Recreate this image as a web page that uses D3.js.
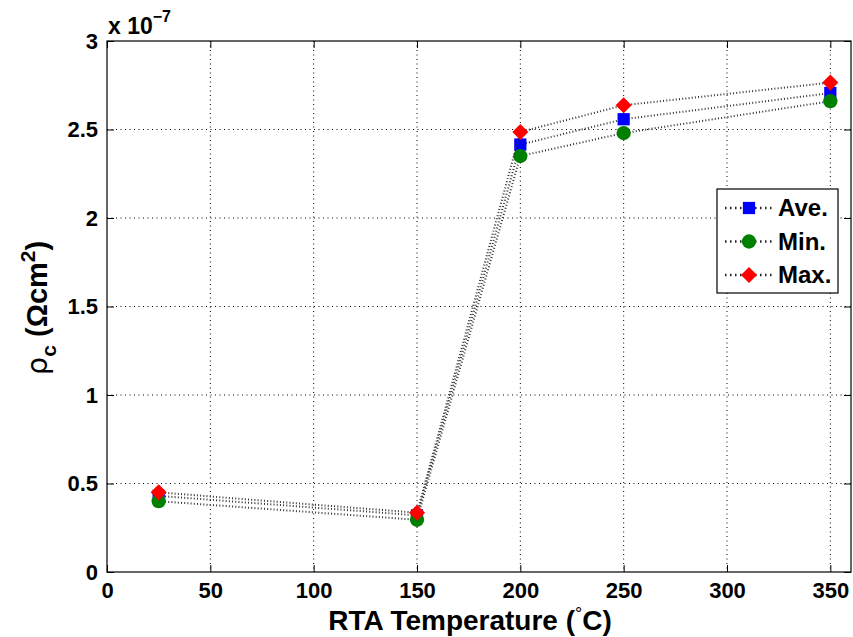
<!DOCTYPE html>
<html>
<head>
<meta charset="utf-8">
<script src="https://cdn.jsdelivr.net/npm/d3@7"></script>
<style>
  body { margin: 0; background: #fff; }
  svg { font-family: "Liberation Sans", Arial, sans-serif; font-weight: bold; }
</style>
</head>
<body>
<svg id="svg" width="853" height="637"></svg>
<script>
// RTA temperatures (°C)
let temps = [25, 150, 200, 250, 350];
// contact resistivity, in units of 1e-7 Ohm cm^2
let aveValues = [0.43, 0.32, 2.415, 2.558, 2.706];
let minValues = [0.40, 0.295, 2.35, 2.48, 2.66];
let maxValues = [0.45, 0.335, 2.486, 2.637, 2.765];
let xTicks = [0, 50, 100, 150, 200, 250, 300, 350];
let yTicks = [0, 0.5, 1, 1.5, 2, 2.5, 3];

let series = [
  { name: "Ave.", values: aveValues, color: "#0000ff", symbol: "square" },
  { name: "Min.", values: minValues, color: "#008000", symbol: "circle" },
  { name: "Max.", values: maxValues, color: "#ff0000", symbol: "diamond" }
];

let svg = d3.select("svg");
let margin = { top: 41, right: 2, bottom: 65, left: 107 };
let width = 851 - margin.left;
let height = 572 - margin.top;

let x = d3.scaleLinear().domain([0, 360]).range([0, width]);
let y = d3.scaleLinear().domain([0, 3]).range([height, 0]);

let g = svg.append("g")
  .attr("transform", "translate(" + margin.left + "," + margin.top + ")");

// dotted grid
g.append("g").selectAll("line")
  .data(xTicks.filter(t => t > 0))
  .enter().append("line")
    .attr("x1", d => x(d)).attr("x2", d => x(d))
    .attr("y1", 0).attr("y2", height)
    .attr("stroke", "#000").attr("stroke-width", 1)
    .attr("stroke-dasharray", "1,3.5");
g.append("g").selectAll("line")
  .data(yTicks.filter(t => t > 0 && t < 3))
  .enter().append("line")
    .attr("y1", d => y(d)).attr("y2", d => y(d))
    .attr("x1", 0).attr("x2", width)
    .attr("stroke", "#000").attr("stroke-width", 1)
    .attr("stroke-dasharray", "1,3.5");

// axes with inward ticks, MATLAB style box
g.append("g")
  .attr("transform", "translate(0," + height + ")")
  .call(d3.axisBottom(x).tickValues(xTicks).tickSizeInner(-7).tickSizeOuter(0).tickPadding(10));
g.append("g")
  .call(d3.axisLeft(y).tickValues(yTicks).tickSizeInner(-7).tickSizeOuter(0).tickPadding(9)
    .tickFormat(d3.format("")));
g.append("g")
  .call(d3.axisTop(x).tickValues(xTicks).tickSizeInner(-7).tickSizeOuter(0).tickFormat(""));
g.append("g")
  .attr("transform", "translate(" + width + ",0)")
  .call(d3.axisRight(y).tickValues(yTicks).tickSizeInner(-7).tickSizeOuter(0).tickFormat(""));

g.selectAll(".domain").remove();
g.selectAll(".tick line").attr("stroke", "#000").attr("stroke-width", 1);
g.selectAll(".tick text").attr("font-size", 22).attr("font-weight", "bold")
  .attr("font-family", "Liberation Sans, Arial, sans-serif").attr("fill", "#000");

g.append("rect")
  .attr("width", width).attr("height", height)
  .attr("fill", "none").attr("stroke", "#000").attr("stroke-width", 1.2);

// series lines and markers
let line = d3.line()
  .x((d, i) => x(temps[i]))
  .y(d => y(d));

let symbolMap = {
  square: d3.symbol().type(d3.symbolSquare).size(150),
  circle: d3.symbol().type(d3.symbolCircle).size(160),
  diamond: d3.symbol().type(d3.symbolDiamond2).size(165)
};

series.forEach(s => {
  g.append("path")
    .datum(s.values)
    .attr("fill", "none")
    .attr("stroke", "#333")
    .attr("stroke-width", 2)
    .attr("stroke-dasharray", "1,2.2")
    .attr("d", line);
  g.selectAll(null)
    .data(s.values)
    .enter().append("path")
      .attr("transform", (d, i) => "translate(" + x(temps[i]) + "," + y(d) + ")")
      .attr("d", symbolMap[s.symbol])
      .attr("fill", s.color);
});

// exponent label
let expo = svg.append("text")
  .attr("x", 108).attr("y", 34)
  .attr("font-size", 23);
expo.append("tspan").text("x 10");
expo.append("tspan").attr("dy", -12).attr("font-size", 16).text("\u22127");

// axis labels
let xl = svg.append("text")
  .attr("x", 470).attr("y", 630)
  .attr("text-anchor", "middle")
  .attr("font-size", 28)
  .text("RTA Temperature (");
xl.append("tspan").attr("dy", -10).attr("font-size", 18).attr("font-weight", "normal").text("\u00b0");
xl.append("tspan").attr("dy", 10).text("C)");

let yl = svg.append("text")
  .attr("transform", "translate(47,308) rotate(-90)")
  .attr("text-anchor", "middle")
  .attr("font-size", 29);
yl.append("tspan").attr("font-weight", "normal").attr("font-family", "DejaVu Sans, sans-serif").text("\u03c1");
yl.append("tspan").attr("dy", 9).attr("font-size", 21).text("c");
yl.append("tspan").attr("dy", -9).text(" (\u03a9cm");
yl.append("tspan").attr("dy", -12).attr("font-size", 21).text("2");
yl.append("tspan").attr("dy", 12).text(")");

// legend
let legend = svg.append("g").attr("transform", "translate(717,189)");
legend.append("rect")
  .attr("width", 121).attr("height", 104)
  .attr("fill", "#fff").attr("stroke", "#000").attr("stroke-width", 1.2);
series.forEach((s, i) => {
  let ly = 19 + i * 33.5;
  legend.append("line")
    .attr("x1", 8).attr("x2", 56).attr("y1", ly).attr("y2", ly)
    .attr("stroke", "#222").attr("stroke-width", 2.5)
    .attr("stroke-dasharray", "1.5,3.5");
  legend.append("path")
    .attr("transform", "translate(32," + ly + ")")
    .attr("d", symbolMap[s.symbol])
    .attr("fill", s.color);
  legend.append("text")
    .attr("x", 61).attr("y", ly + 8)
    .attr("font-size", 24)
    .text(s.name);
});
</script>
</body>
</html>
